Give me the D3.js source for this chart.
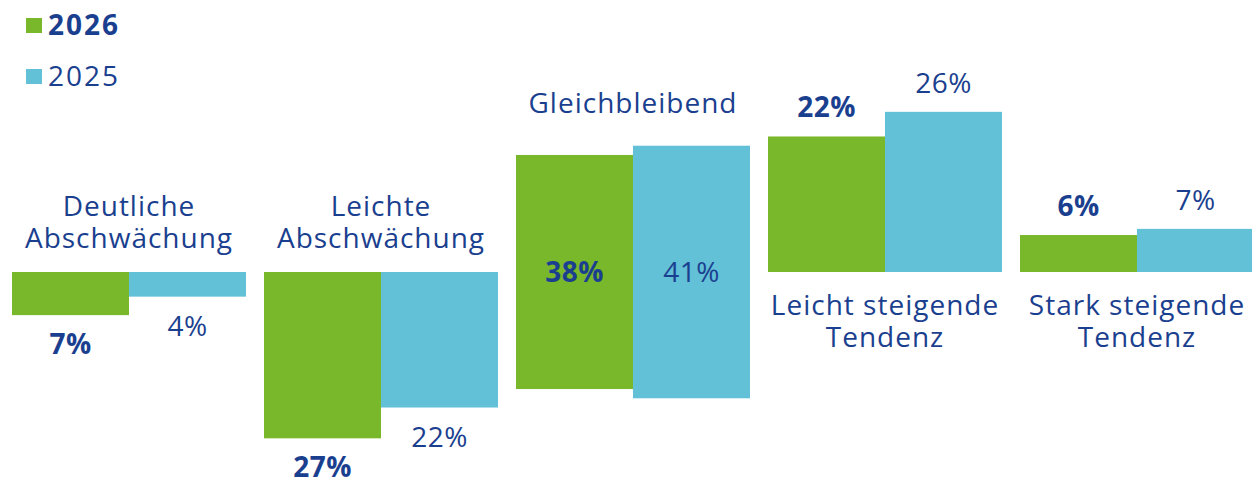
<!DOCTYPE html>
<html>
<head>
<meta charset="utf-8">
<script src="https://cdn.jsdelivr.net/npm/d3@7"></script>
<style>
  html, body { margin: 0; padding: 0; background: #fff; }
  text { font-family: 'Open Sans', sans-serif; fill: #1b3f8f; }
</style>
</head>
<body>
<div class="canvas"></div>
<script>
// data
const categories = [
  ['Deutliche', 'Abschwächung'],
  ['Leichte', 'Abschwächung'],
  ['Gleichbleibend'],
  ['Leicht steigende', 'Tendenz'],
  ['Stark steigende', 'Tendenz']
]
// -1 = bars hang below the line, 0 = centred on it, 1 = bars stand on it
const directions = [-1, -1, 0, 1, 1]
const series = ['2026', '2025']
const values2026 = [7, 27, 38, 22, 6]
const values2025 = [4, 22, 41, 26, 7]

const dimension = { width: 1252, height: 482 }
const colors = { '2026': '#79b72b', '2025': '#62c0d7' }
const baseline = 272
const pxPerPct = 6.16

const svg = d3.select('.canvas')
  .append('svg')
  .attr('width', dimension.width)
  .attr('height', dimension.height)

const x = d3.scaleBand()
  .domain(d3.range(categories.length))
  .range([12, 12 + 5 * 252 - 18])
  .paddingInner(18 / 252)

const xs = d3.scaleBand()
  .domain(series)
  .range([0, x.bandwidth()])

const y = d3.scaleLinear()
  .domain([-45, 45])
  .range([baseline + 45 * pxPerPct, baseline - 45 * pxPerPct])

// build bar rows
const rows = []
categories.forEach((c, i) => {
  series.forEach(s => {
    const v = s === '2026' ? values2026[i] : values2025[i]
    const dir = directions[i]
    let lo, hi
    if (dir < 0) { lo = -v; hi = 0 }
    else if (dir > 0) { lo = 0; hi = v }
    else { lo = -v / 2; hi = v / 2 }
    rows.push({ i, s, v, dir, lo, hi })
  })
})

const groups = svg.append('g')

groups.selectAll('rect')
  .data(rows)
  .enter()
  .append('rect')
    .attr('x', d => x(d.i) + xs(d.s))
    .attr('width', xs.bandwidth())
    .attr('y', d => y(d.hi))
    .attr('height', d => y(d.lo) - y(d.hi))
    .attr('fill', d => colors[d.s])

// value labels
groups.selectAll('text.val')
  .data(rows)
  .enter()
  .append('text')
    .attr('class', 'val')
    .attr('x', d => x(d.i) + xs(d.s) + xs.bandwidth() / 2)
    .attr('y', d => {
      if (d.dir < 0) return y(d.lo) + 39
      if (d.dir > 0) return y(d.hi) - 19
      return baseline + 10
    })
    .attr('text-anchor', 'middle')
    .attr('font-size', 28)
    .attr('letter-spacing', 0.5)
    .attr('font-weight', d => d.s === '2026' ? 700 : 400)
    .text(d => d.v + '%')

// category labels
categories.forEach((lines, i) => {
  const cx = x(i) + x.bandwidth() / 2
  const dir = directions[i]
  let y0
  if (dir < 0) y0 = baseline - 24 - (lines.length - 1) * 32
  else if (dir > 0) y0 = baseline + 43
  else {
    const top = d3.min(rows.filter(r => r.i === i), r => y(r.hi))
    y0 = top - 33
  }
  const t = svg.append('text')
    .attr('text-anchor', 'middle')
    .attr('font-size', 28)
    .attr('letter-spacing', 1)
  lines.forEach((l, k) => {
    t.append('tspan')
      .attr('x', cx)
      .attr('y', y0 + k * 32)
      .text(l)
  })
})

// legend
const legend = svg.append('g')
series.forEach((s, k) => {
  legend.append('rect')
    .attr('x', 26)
    .attr('y', 18 + k * 51)
    .attr('width', 16)
    .attr('height', 15)
    .attr('fill', colors[s])
  legend.append('text')
    .attr('x', 48)
    .attr('y', 35 + k * 51)
    .attr('font-size', 28)
    .attr('font-weight', s === '2026' ? 700 : 400)
    .attr('letter-spacing', 2)
    .text(s)
})
</script>
</body>
</html>
